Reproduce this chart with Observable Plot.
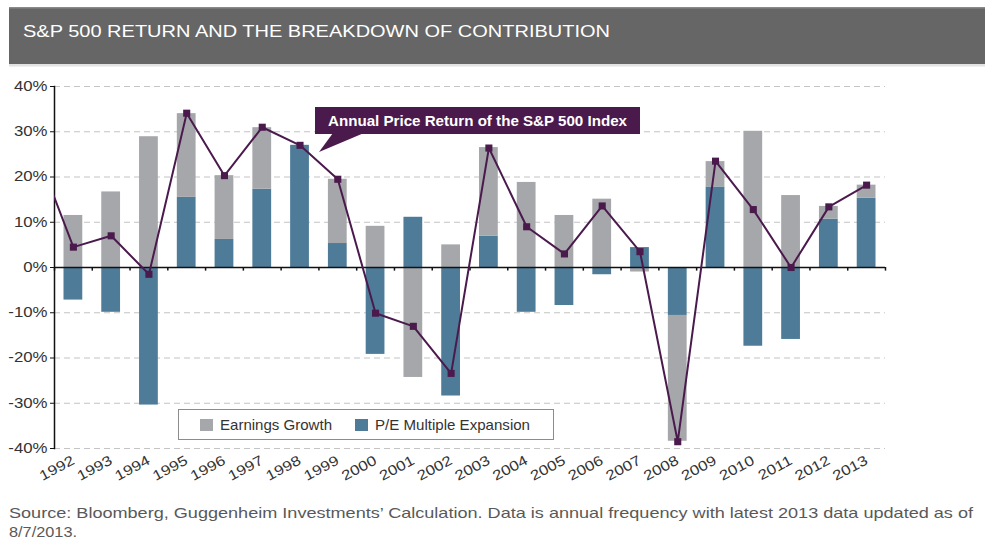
<!DOCTYPE html>
<html><head><meta charset="utf-8">
<script src="https://cdn.jsdelivr.net/npm/d3@7"></script>
<script src="https://cdn.jsdelivr.net/npm/@observablehq/plot@0.6"></script>
<style>
body{margin:0;background:#fff;font-family:"Liberation Sans",Arial,sans-serif;}
#wrap{position:relative;width:985px;height:540px;overflow:hidden;background:#fff;}
#chart{position:absolute;left:0;top:70px;}
#overlay{position:absolute;left:0;top:0;pointer-events:none;}
</style></head><body>
<div id="wrap"><div id="chart"></div><svg id="overlay" width="985" height="540" xmlns="http://www.w3.org/2000/svg"></svg></div>
<script>
// ---- data ----
const years = [1992,1993,1994,1995,1996,1997,1998,1999,2000,2001,2002,2003,2004,2005,2006,2007,2008,2009,2010,2011,2012,2013];
const earningsGrowth = [11.5,16.7,28.9,18.5,14.1,13.6,0.0,14.2,9.1,-24.3,5.0,19.6,18.8,11.5,15.1,-1.0,-27.8,5.6,30.1,15.9,2.8,2.9];
const peExpansion = [-7.2,-9.9,-30.4,15.5,6.2,17.3,27.0,5.3,-19.2,11.1,-28.4,6.9,-9.9,-8.4,-1.6,4.4,-10.6,17.8,-17.4,-15.9,10.7,15.3];
const returnYears = [1991,1992,1993,1994,1995,1996,1997,1998,1999,2000,2001,2002,2003,2004,2005,2006,2007,2008,2009,2010,2011,2012,2013];
const priceReturn = [26.3,4.5,7.0,-1.5,34.1,20.3,31.0,27.0,19.5,-10.1,-13.0,-23.4,26.4,9.0,3.0,13.6,3.5,-38.5,23.5,12.8,0.0,13.4,18.2];
const yTicks = [-40,-30,-20,-10,0,10,20,30,40];
const seriesNames = ["P/E Multiple Expansion","Earnings Growth"];
const seriesColors = ["#4e7b98","#a6a7ab"];
const lineColor = "#4b1a4d";
const titleText = "S&P 500 RETURN AND THE BREAKDOWN OF CONTRIBUTION";
const annotationText = "Annual Price Return of the S&P 500 Index";
const captionLines = ["Source: Bloomberg, Guggenheim Investments’ Calculation. Data is annual frequency with latest 2013 data updated as of","8/7/2013."];

// ---- derived tables ----
const bars = [];
years.forEach((yr,i)=>{
  const pe = peExpansion[i], eg = earningsGrowth[i];
  bars.push({year:yr, series:seriesNames[0], y1:0, y2:pe});
  const base = (Math.sign(eg) === Math.sign(pe)) ? pe : 0;
  bars.push({year:yr, series:seriesNames[1], y1:base, y2:base+eg});
});
const returns = returnYears.map((yr,i)=>({year:yr, value:priceReturn[i]}));
const bounds = [years[0]-0.5, ...years.map(y=>y+0.5)];

const chart = Plot.plot({
  width: 985, height: 420,
  marginTop: 16, marginBottom: 42, marginLeft: 54, marginRight: 100,
  style: {fontFamily: "'Liberation Sans', Arial, sans-serif", fontSize: "14px", color: "#333", background: "transparent"},
  x: {type: "linear", domain: [years[0]-0.5, years[years.length-1]+0.5], label: null},
  y: {domain: [yTicks[0], yTicks[yTicks.length-1]], label: null},
  color: {domain: seriesNames, range: seriesColors},
  marks: [
    Plot.ruleY(yTicks.filter(t=>t!==0), {stroke: "#c4c4c4", strokeDasharray: "6,4", strokeWidth: 1.2}),
    Plot.rect(bars, {x1: d=>d.year-0.5, x2: d=>d.year+0.5, y1: "y1", y2: "y2", fill: "series", insetLeft: 9.5, insetRight: 9.5}),
    Plot.ruleY([0], {stroke: "#111", strokeWidth: 1.5}),
    Plot.ruleX(bounds, {x: d=>d, y1: 0, y2: -0.8, stroke: "#111", strokeWidth: 1.5}),
    Plot.frame({anchor: "left", stroke: "#111", strokeWidth: 1.5}),
    Plot.line(returns, {x: "year", y: "value", stroke: lineColor, strokeWidth: 2, clip: true}),
    Plot.dot(returns, {x: "year", y: "value", symbol: "square", r: 4, fill: lineColor, clip: true}),
    Plot.axisY(yTicks, {tickFormat: d=>d+"%", tickSize: 4, tickPadding: 3, fontSize: 14, stroke: "#111", label: null}),
    Plot.axisX(years, {tickFormat: d=>String(d), tickRotate: -28, tickSize: 0, tickPadding: 11, fontSize: 14, label: null})
  ]
});
document.getElementById("chart").append(chart);
// horizontally widen tick labels a bit (source image is stretched)
chart.querySelectorAll('g[aria-label$="tick label"] text').forEach(t=>{
  const w = t.getComputedTextLength();
  t.setAttribute("textLength", (w*1.2).toFixed(1));
  t.setAttribute("lengthAdjust", "spacingAndGlyphs");
});

// ---- overlay: title, annotation, legend, caption ----
const ov = d3.select("#overlay");
ov.append("rect").attr("x",9).attr("y",7).attr("width",976).attr("height",57).attr("fill","#666");
ov.append("rect").attr("x",9).attr("y",7).attr("width",976).attr("height",1.5).attr("fill","#8a8a8a");
ov.append("rect").attr("x",9).attr("y",64).attr("width",976).attr("height",2.5).attr("fill","#e2e2e2");
ov.append("text").attr("x",23).attr("y",37).attr("fill","#fff").attr("font-size",17)
  .attr("font-family","'Liberation Sans', Arial, sans-serif")
  .attr("textLength",587).attr("lengthAdjust","spacingAndGlyphs").text(titleText);

// annotation callout
ov.append("polygon").attr("points","333,133 364,133 319,152").attr("fill",lineColor);
ov.append("rect").attr("x",315).attr("y",107).attr("width",325).attr("height",27).attr("fill",lineColor);
ov.append("text").attr("x",328).attr("y",126).attr("fill","#fff").attr("font-size",14).attr("font-weight","bold")
  .attr("font-family","'Liberation Sans', Arial, sans-serif")
  .attr("textLength",299).attr("lengthAdjust","spacingAndGlyphs").text(annotationText);

// legend
ov.append("rect").attr("x",178.5).attr("y",409.5).attr("width",375).attr("height",30).attr("fill","#fff").attr("stroke","#8c8c8c");
const legendItems = [
  {name: seriesNames[1], color: seriesColors[1], sx: 200, tx: 220, tw: 112},
  {name: seriesNames[0], color: seriesColors[0], sx: 355, tx: 375, tw: 155}
];
legendItems.forEach(it=>{
  ov.append("rect").attr("x",it.sx).attr("y",419).attr("width",13).attr("height",12).attr("fill",it.color);
  ov.append("text").attr("x",it.tx).attr("y",430).attr("fill","#333").attr("font-size",14.5)
    .attr("font-family","'Liberation Sans', Arial, sans-serif")
    .attr("textLength",it.tw).attr("lengthAdjust","spacingAndGlyphs").text(it.name);
});

// caption
const capWidths = [964, 68];
captionLines.forEach((line,i)=>{
  ov.append("text").attr("x",9).attr("y",518+i*19).attr("fill","#595959").attr("font-size",14.5)
    .attr("font-family","'Liberation Sans', Arial, sans-serif")
    .attr("textLength",capWidths[i]).attr("lengthAdjust","spacingAndGlyphs").text(line);
});
</script>
</body></html>
